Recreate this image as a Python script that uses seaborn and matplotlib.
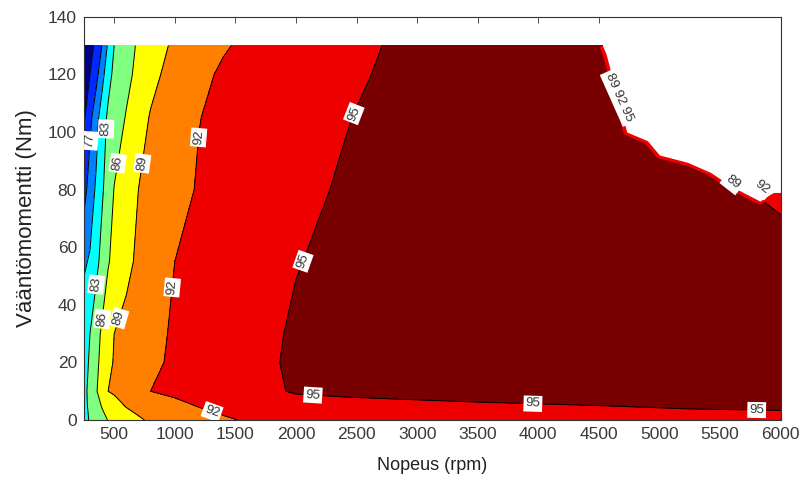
import numpy as np
import matplotlib
matplotlib.use("Agg")
import matplotlib.pyplot as plt
import seaborn as sns

# ---- data (efficiency map, %) ----
speed_rpm = [250, 300, 350, 400, 450, 500, 600, 700, 800, 1000, 1200, 1400,
             1600, 2000, 2400, 2800, 3500, 4500, 5250, 6000]
torque_nm = [0, 5, 10, 20, 30, 55, 80, 105, 120, 130]

eff_t0   = [82.2, 83.2, 84.2, 85.2, 86.1, 86.6, 87.7, 88.7, 89.3, 90.1, 90.9, 91.7,
            92.2, 93.0, 93.4, 93.7, 94.0, 94.4, 94.5, 94.6]
eff_t5   = [82.3, 83.5, 84.9, 86.2, 87.1, 87.9, 89.2, 89.7, 90.2, 91.3, 92.15, 92.65,
            93.2, 94.2, 94.25, 94.4, 94.68, 95.0, 95.15, 95.2]
eff_t10  = [82.1, 83.9, 85.7, 87.4, 89.0, 89.4, 90.3, 91.2, 92.0, 92.6, 93.1, 93.7,
            94.25, 95.2, 95.5, 95.7, 96.0, 96.2, 96.2, 96.1]
eff_t20  = [81.8, 83.4, 85.25, 86.9, 88.3, 89.2, 90.0, 90.75, 91.5, 92.4, 93.0, 93.6,
            94.2, 95.4, 95.8, 96.1, 96.4, 96.7, 96.6, 96.4]
eff_t30  = [81.5, 83.0, 84.8, 86.5, 87.8, 89.0, 89.8, 90.6, 91.3, 92.3, 92.9, 93.5,
            94.1, 95.3, 95.8, 96.1, 96.5, 96.8, 96.7, 96.5]
eff_t55  = [79.6, 80.3, 82.1, 84.0, 85.8, 86.7, 88.3, 89.5, 90.3, 92.0, 92.6, 93.2,
            93.7, 94.9, 95.6, 96.0, 96.4, 96.8, 96.6, 96.3]
eff_t80  = [75.8, 78.4, 80.4, 82.6, 84.4, 86.1, 87.5, 89.0, 89.7, 91.2, 92.2, 92.7,
            93.25, 94.3, 95.3, 95.7, 96.2, 96.6, 96.3, 94.3]
eff_t105 = [73.6, 76.2, 78.8, 81.6, 83.5, 84.4, 86.2, 87.8, 89.2, 90.6, 91.95, 92.5,
            92.9, 93.9, 94.85, 95.8, 96.2, 96.5, 96.0, 96.0]
eff_t120 = [72.0, 74.0, 76.0, 78.9, 82.1, 83.6, 85.2, 86.8, 88.2, 90.1, 91.5, 92.3,
            92.7, 93.6, 94.5, 95.4, 96.1, 96.4, 96.0, 96.0]
eff_t130 = [70.5, 72.7, 74.9, 77.1, 80.5, 83.0, 84.8, 86.4, 87.6, 89.5, 90.6, 91.8,
            92.4, 93.3, 94.3, 95.2, 96.0, 96.3, 96.0, 96.0]

# maximum torque curve (edge of the operating area)
limit_speed  = [4530, 4560, 4730, 4900, 5000, 5230, 5420, 5600, 5830, 5900, 5940, 6000]
limit_torque = [130, 127, 100, 97, 92, 89.5, 86, 81, 76, 78, 79, 79]

band_edges  = [60, 74, 77, 80, 83, 86, 89, 92, 95, 100]
line_levels = [74, 77, 80, 83, 86, 89, 92, 95]
band_colors = ['#00008C', '#0028FF', '#0080FF', '#00FFFF', '#80FF80',
               '#FFFF00', '#FF8000', '#EE0000', '#780000']

label_spots = [(283, 97), (473, 101), (564, 89), (753, 89), (1232, 98),
               (2502, 106), (2139, 54), (984, 46), (357, 47), (415, 35),
               (572, 35), (1314, 3.5), (2139, 8), (3954, 4), (5802, 2.4)]

x_ticks = list(range(500, 6001, 500))
y_ticks = list(range(0, 141, 20))

# ---- plotting ----
sns.set_theme(style="white")
plt.rcParams['font.family'] = ['Liberation Sans', 'DejaVu Sans']

fig, ax = plt.subplots(figsize=(7.99, 4.8), dpi=100)
fig.subplots_adjust(left=0.105, right=0.977, bottom=0.125, top=0.965)

X, Y = np.meshgrid(speed_rpm, torque_nm)
Z = np.array([eff_t0, eff_t5, eff_t10, eff_t20, eff_t30, eff_t55,
              eff_t80, eff_t105, eff_t120, eff_t130])

ax.contourf(X, Y, Z, levels=band_edges, colors=band_colors)
cs = ax.contour(X, Y, Z, levels=line_levels, colors='black', linewidths=0.7)

ax.plot(limit_speed, limit_torque, color='#EE0000', lw=5, zorder=2.3,
        solid_capstyle='butt')
ax.fill_between(limit_speed, limit_torque, 140, color='white', lw=0, zorder=2.5)

texts = ax.clabel(cs, fmt='%d', manual=label_spots, inline=True,
                  inline_spacing=3, fontsize=9.5, colors='#333333')
for t in texts:
    t.set_bbox(dict(boxstyle='square,pad=0.15', fc='white', ec='none'))
    t.set_zorder(4)

box = dict(boxstyle='square,pad=0.2', fc='white', ec='none')
ax.text(4668, 112, '89 92 95', rotation=-66, ha='center', va='center',
        fontsize=9.5, color='#333333', bbox=box, zorder=4)
ax.text(5604, 82.5, '89', rotation=-38, ha='center', va='center',
        fontsize=9.5, color='#333333', bbox=box, zorder=4)
ax.text(5844, 80.8, '92', rotation=-38, ha='center', va='center',
        fontsize=9.5, color='#333333', bbox=box, zorder=4)

ax.set_xlim(250, 6000)
ax.set_ylim(0, 140)
ax.set_xticks(x_ticks)
ax.set_yticks(y_ticks)
ax.tick_params(direction='in', top=True, right=True, length=4, width=0.6,
               color='#333333', labelsize=12.5, labelcolor='#3a3a3a', pad=5)
for sp in ax.spines.values():
    sp.set_color('#333333')
    sp.set_linewidth(0.8)

ax.set_xlabel('Nopeus (rpm)', fontsize=13, color='#222222')
ax.set_ylabel('Vääntömomentti (Nm)', fontsize=16, color='#222222')
ax.xaxis.set_label_coords(0.5, -0.092)
ax.yaxis.set_label_coords(-0.068, 0.5)

fig.savefig('out.png', dpi=100)
